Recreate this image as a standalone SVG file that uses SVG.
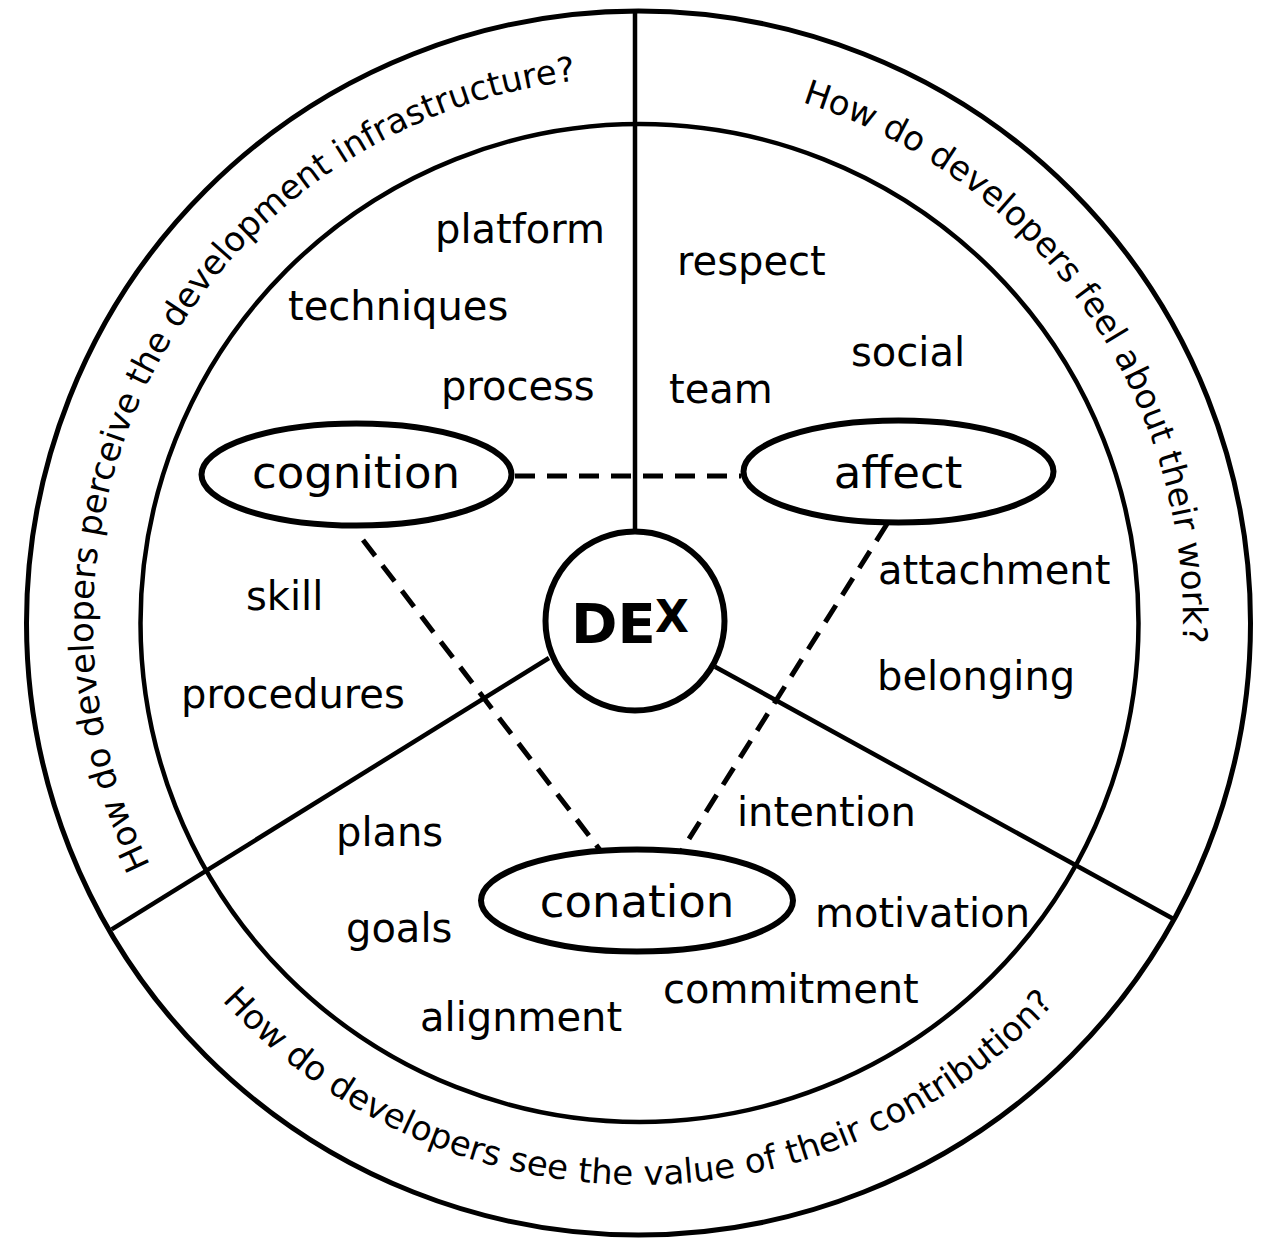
<svg xmlns="http://www.w3.org/2000/svg" width="1276" height="1247" viewBox="0 0 1276 1247">
<style>
.ring{fill:none;stroke:#000;stroke-width:5}
.sep{fill:none;stroke:#000;stroke-width:4.5}
.node{fill:#fff;stroke:#000;stroke-width:6}
.dash{fill:none;stroke:#000;stroke-width:5;stroke-dasharray:20 12}
.lbl{font-family:"DejaVu Sans",sans-serif;font-size:40px;fill:#000}
.big{font-family:"DejaVu Sans",sans-serif;font-size:45px;fill:#000;text-anchor:middle}
.arc{font-family:"DejaVu Sans",sans-serif;font-size:34px;fill:#000}
.dex{font-family:"DejaVu Sans",sans-serif;font-weight:bold;fill:#000}
</style>
<defs>
<path id="pLeft" d="M150.3,865.2 A545,545 0 0 1 732.6,85.3"/>
<path id="pRight" d="M801.9,102.2 A545,545 0 0 1 1174.7,716.6"/>
<path id="pBottom" d="M222,1000.5 A565,565 0 0 0 1100.8,946.1"/>
</defs>
<rect width="1276" height="1247" fill="#fff"/>
<g id="rings">
<circle class="ring" cx="638.5" cy="623" r="612"/>
<circle class="sep" cx="639.5" cy="623" r="499"/>
</g>
<g id="connectors">
<line class="sep" x1="635" y1="11" x2="635" y2="532"/>
<line class="sep" x1="549" y1="658" x2="111.7" y2="929.3"/>
<line class="sep" x1="715" y1="666.7" x2="1174" y2="919.3"/>
<line class="dash" x1="515" y1="476" x2="741" y2="476"/>
<line class="dash" x1="363" y1="540" x2="600" y2="850"/>
<line class="dash" x1="887" y1="524" x2="682" y2="850"/>
</g>
<g id="questions">
<text class="arc"><textPath href="#pLeft">How do developers perceive the development infrastructure?</textPath></text>
<text class="arc"><textPath href="#pRight">How do developers feel about their work?</textPath></text>
<text class="arc"><textPath href="#pBottom">How do developers see the value of their contribution?</textPath></text>
</g>
<g id="dex">
<circle class="node" cx="635" cy="621" r="89.5"/>
<text class="dex" x="571" y="643" font-size="56">DE</text>
<text class="dex" x="655" y="632" font-size="44">X</text>
</g>
<g id="cognition">
<ellipse class="node" cx="356.5" cy="474.5" rx="155" ry="51"/>
<text class="big" x="356" y="488">cognition</text>
</g>
<g id="affect">
<ellipse class="node" cx="898.5" cy="471.5" rx="155" ry="51"/>
<text class="big" x="898" y="488">affect</text>
</g>
<g id="conation">
<ellipse class="node" cx="637" cy="900.5" rx="156" ry="51"/>
<text class="big" x="637" y="917">conation</text>
</g>
<g id="labels">
<text class="lbl" x="435" y="243">platform</text>
<text class="lbl" x="288" y="320">techniques</text>
<text class="lbl" x="441" y="400">process</text>
<text class="lbl" x="677" y="275">respect</text>
<text class="lbl" x="851" y="366">social</text>
<text class="lbl" x="669" y="403">team</text>
<text class="lbl" x="246" y="610">skill</text>
<text class="lbl" x="181" y="708">procedures</text>
<text class="lbl" x="878" y="584">attachment</text>
<text class="lbl" x="877" y="690">belonging</text>
<text class="lbl" x="737" y="826">intention</text>
<text class="lbl" x="336" y="846">plans</text>
<text class="lbl" x="346" y="942">goals</text>
<text class="lbl" x="815" y="927">motivation</text>
<text class="lbl" x="663" y="1003">commitment</text>
<text class="lbl" x="420" y="1031">alignment</text>
</g>
</svg>
